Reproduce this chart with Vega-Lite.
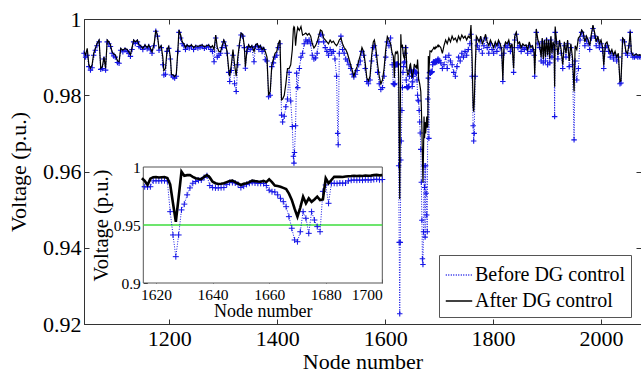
{
  "$schema": "https://vega.github.io/schema/vega-lite/v6.json",
  "width": 557,
  "height": 305,
  "autosize": {"type": "none"},
  "padding": {"left": 84, "top": 19, "right": 0, "bottom": 49},
  "background": "white",
  "config": {
    "view": {"stroke": "#333", "strokeWidth": 1},
    "font": "Liberation Serif",
    "axis": {"labelFont": "Liberation Serif", "titleFont": "Liberation Serif", "labelColor": "black", "titleColor": "black", "titleFontWeight": "normal", "grid": false, "domainColor": "#333", "tickColor": "#333"},
    "legend": {"labelFont": "Liberation Serif"}
  },
  "datasets": {
    "d": [
      {"n":1042,"a":0.9914,"b":0.9910},{"n":1045,"a":0.9906,"b":0.9900},{"n":1048,"a":0.9923,"b":0.9905},{"n":1051,"a":0.9880,"b":0.9875},{"n":1054,"a":0.9871,"b":0.9866},{"n":1057,"a":0.9880,"b":0.9872},{"n":1060,"a":0.9910,"b":0.9905},{"n":1063,"a":0.9923,"b":0.9918},{"n":1066,"a":0.9935,"b":0.9930},{"n":1070,"a":0.9945,"b":0.9940},{"n":1073,"a":0.9871,"b":0.9868},{"n":1076,"a":0.9875,"b":0.9870},{"n":1079,"a":0.9900,"b":0.9895},{"n":1082,"a":0.9871,"b":0.9866},{"n":1085,"a":0.9945,"b":0.9940},{"n":1088,"a":0.9940,"b":0.9935},{"n":1091,"a":0.9932,"b":0.9928},{"n":1094,"a":0.9914,"b":0.9910},{"n":1097,"a":0.9908,"b":0.9903},{"n":1100,"a":0.9906,"b":0.9900},{"n":1104,"a":0.9890,"b":0.9886},{"n":1107,"a":0.9888,"b":0.9884},{"n":1110,"a":0.9923,"b":0.9918},{"n":1114,"a":0.9918,"b":0.9914},{"n":1118,"a":0.9923,"b":0.9919},{"n":1122,"a":0.9920,"b":0.9915},{"n":1125,"a":0.9914,"b":0.9910},{"n":1128,"a":0.9906,"b":0.9902},{"n":1131,"a":0.9925,"b":0.9920},{"n":1134,"a":0.9945,"b":0.9940},{"n":1137,"a":0.9940,"b":0.9936},{"n":1141,"a":0.9945,"b":0.9940},{"n":1144,"a":0.9932,"b":0.9928},{"n":1147,"a":0.9930,"b":0.9926},{"n":1151,"a":0.9923,"b":0.9920},{"n":1155,"a":0.9932,"b":0.9928},{"n":1159,"a":0.9925,"b":0.9922},{"n":1162,"a":0.9932,"b":0.9928},{"n":1165,"a":0.9923,"b":0.9919},{"n":1168,"a":0.9914,"b":0.9910},{"n":1172,"a":0.9935,"b":0.9930},{"n":1175,"a":0.9971,"b":0.9968},{"n":1178,"a":0.9958,"b":0.9955},{"n":1181,"a":0.9923,"b":0.9918},{"n":1185,"a":0.9930,"b":0.9925},{"n":1188,"a":0.9900,"b":0.9880},{"n":1190,"a":0.9865,"b":0.9853},{"n":1193,"a":0.9870,"b":0.9855},{"n":1196,"a":0.9920,"b":0.9915},{"n":1199,"a":0.9928,"b":0.9923},{"n":1202,"a":0.9900,"b":0.9895},{"n":1204,"a":0.9855,"b":0.9853},{"n":1207,"a":0.9853,"b":0.9848},{"n":1210,"a":0.9849,"b":0.9845},{"n":1213,"a":0.9855,"b":0.9850},{"n":1216,"a":0.9920,"b":0.9915},{"n":1218,"a":0.9971,"b":0.9965},{"n":1221,"a":0.9958,"b":0.9950},{"n":1224,"a":0.9940,"b":0.9935},{"n":1227,"a":0.9935,"b":0.9930},{"n":1230,"a":0.9925,"b":0.9920},{"n":1233,"a":0.9932,"b":0.9928},{"n":1237,"a":0.9928,"b":0.9924},{"n":1241,"a":0.9932,"b":0.9928},{"n":1245,"a":0.9925,"b":0.9920},{"n":1249,"a":0.9930,"b":0.9926},
      {"n":1253,"a":0.9928,"b":0.9924},{"n":1257,"a":0.9930,"b":0.9926},{"n":1261,"a":0.9932,"b":0.9928},{"n":1265,"a":0.9927,"b":0.9923},{"n":1269,"a":0.9930,"b":0.9926},{"n":1273,"a":0.9932,"b":0.9928},{"n":1277,"a":0.9925,"b":0.9920},{"n":1280,"a":0.9930,"b":0.9915},{"n":1283,"a":0.9920,"b":0.9888},{"n":1286,"a":0.9958,"b":0.9950},{"n":1289,"a":0.9925,"b":0.9900},{"n":1292,"a":0.9915,"b":0.9905},{"n":1295,"a":0.9914,"b":0.9910},{"n":1298,"a":0.9930,"b":0.9925},{"n":1301,"a":0.9945,"b":0.9940},{"n":1304,"a":0.9935,"b":0.9930},{"n":1307,"a":0.9915,"b":0.9910},{"n":1310,"a":0.9870,"b":0.9860},{"n":1312,"a":0.9850,"b":0.9836},{"n":1315,"a":0.9880,"b":0.9865},{"n":1318,"a":0.9920,"b":0.9905},{"n":1321,"a":0.9880,"b":0.9830},{"n":1324,"a":0.9850,"b":0.9810},{"n":1327,"a":0.9900,"b":0.9880},{"n":1330,"a":0.9935,"b":0.9930},{"n":1333,"a":0.9963,"b":0.9958},{"n":1336,"a":0.9960,"b":0.9955},{"n":1339,"a":0.9930,"b":0.9925},{"n":1341,"a":0.9875,"b":0.9871},{"n":1344,"a":0.9920,"b":0.9915},{"n":1347,"a":0.9932,"b":0.9928},{"n":1350,"a":0.9925,"b":0.9920},{"n":1353,"a":0.9930,"b":0.9925},{"n":1357,"a":0.9915,"b":0.9888},{"n":1360,"a":0.9932,"b":0.9928},{"n":1363,"a":0.9935,"b":0.9930},{"n":1366,"a":0.9925,"b":0.9920},{"n":1369,"a":0.9930,"b":0.9926},{"n":1372,"a":0.9920,"b":0.9915},{"n":1375,"a":0.9925,"b":0.9920},{"n":1378,"a":0.9914,"b":0.9893},{"n":1381,"a":0.9900,"b":0.9890},{"n":1384,"a":0.9800,"b":0.9796},{"n":1387,"a":0.9810,"b":0.9800},{"n":1390,"a":0.9880,"b":0.9875},{"n":1393,"a":0.9895,"b":0.9885},{"n":1396,"a":0.9910,"b":0.9900},{"n":1399,"a":0.9914,"b":0.9905},{"n":1402,"a":0.9935,"b":0.9925},{"n":1405,"a":0.9945,"b":0.9935},{"n":1408,"a":0.9788,"b":0.9748},{"n":1410,"a":0.9790,"b":0.9730},{"n":1413,"a":0.9800,"b":0.9745},{"n":1416,"a":0.9830,"b":0.9770},{"n":1419,"a":0.9870,"b":0.9790},{"n":1422,"a":0.9870,"b":0.9860},{"n":1425,"a":0.9880,"b":0.9785},{"n":1428,"a":0.9920,"b":0.9718},{"n":1430,"a":0.9975,"b":0.9640},{"n":1431,"a":0.9980,"b":0.9622},{"n":1432,"a":0.9978,"b":0.9650},{"n":1434,"a":0.9930,"b":0.9720},{"n":1436,"a":0.9960,"b":0.9858},{"n":1438,"a":0.9978,"b":0.9820},{"n":1441,"a":0.9970,"b":0.9870},{"n":1444,"a":0.9980,"b":0.9900},{"n":1447,"a":0.9958,"b":0.9910},
      {"n":1450,"a":0.9960,"b":0.9935},{"n":1453,"a":0.9963,"b":0.9945},{"n":1456,"a":0.9958,"b":0.9940},{"n":1459,"a":0.9962,"b":0.9945},{"n":1462,"a":0.9955,"b":0.9935},{"n":1465,"a":0.9935,"b":0.9905},{"n":1468,"a":0.9924,"b":0.9895},{"n":1471,"a":0.9930,"b":0.9898},{"n":1474,"a":0.9940,"b":0.9910},{"n":1477,"a":0.9955,"b":0.9940},{"n":1480,"a":0.9971,"b":0.9960},{"n":1483,"a":0.9968,"b":0.9958},{"n":1486,"a":0.9950,"b":0.9940},{"n":1489,"a":0.9945,"b":0.9925},{"n":1492,"a":0.9940,"b":0.9915},{"n":1495,"a":0.9935,"b":0.9905},{"n":1498,"a":0.9945,"b":0.9920},{"n":1501,"a":0.9938,"b":0.9910},{"n":1504,"a":0.9942,"b":0.9915},{"n":1507,"a":0.9935,"b":0.9895},{"n":1510,"a":0.9930,"b":0.9850},{"n":1512,"a":0.9935,"b":0.9700},{"n":1513,"a":0.9938,"b":0.9670},{"n":1515,"a":0.9945,"b":0.9910},{"n":1518,"a":0.9950,"b":0.9955},{"n":1521,"a":0.9935,"b":0.9920},{"n":1524,"a":0.9925,"b":0.9910},{"n":1527,"a":0.9920,"b":0.9895},{"n":1530,"a":0.9910,"b":0.9890},{"n":1533,"a":0.9895,"b":0.9880},{"n":1536,"a":0.9880,"b":0.9870},{"n":1539,"a":0.9865,"b":0.9855},{"n":1542,"a":0.9850,"b":0.9848},{"n":1545,"a":0.9865,"b":0.9855},{"n":1548,"a":0.9875,"b":0.9865},{"n":1551,"a":0.9890,"b":0.9880},{"n":1554,"a":0.9905,"b":0.9890},{"n":1557,"a":0.9925,"b":0.9915},{"n":1560,"a":0.9915,"b":0.9905},{"n":1563,"a":0.9885,"b":0.9870},{"n":1566,"a":0.9845,"b":0.9836},{"n":1569,"a":0.9838,"b":0.9830},{"n":1572,"a":0.9850,"b":0.9840},{"n":1575,"a":0.9905,"b":0.9890},{"n":1578,"a":0.9940,"b":0.9925},{"n":1580,"a":0.9945,"b":0.9930},{"n":1583,"a":0.9920,"b":0.9905},{"n":1586,"a":0.9880,"b":0.9860},{"n":1589,"a":0.9850,"b":0.9830},{"n":1592,"a":0.9830,"b":0.9815},{"n":1595,"a":0.9840,"b":0.9820},{"n":1598,"a":0.9870,"b":0.9850},{"n":1601,"a":0.9920,"b":0.9900},{"n":1604,"a":0.9954,"b":0.9940},{"n":1607,"a":0.9945,"b":0.9930},{"n":1610,"a":0.9935,"b":0.9950},{"n":1613,"a":0.9910,"b":0.9880},
      {"n":1615,"a":0.9903,"b":0.9830},{"n":1616,"a":0.9880,"b":0.9830},{"n":1617,"a":0.9845,"b":0.9828},{"n":1618,"a":0.9900,"b":0.9830},{"n":1619,"a":0.9912,"b":0.9880},{"n":1620,"a":0.9914,"b":0.9882},{"n":1621,"a":0.9910,"b":0.9880},{"n":1622,"a":0.9912,"b":0.9882},{"n":1623,"a":0.9914,"b":0.9882},{"n":1624,"a":0.9905,"b":0.9880},{"n":1625,"a":0.9850,"b":0.9615},{"n":1626,"a":0.9687,"b":0.9414},{"n":1627,"a":0.9528,"b":0.9227},{"n":1628,"a":0.9740,"b":0.9414},{"n":1629,"a":0.9960,"b":0.9630},{"n":1630,"a":0.9925,"b":0.9680},{"n":1631,"a":0.9930,"b":0.9760},{"n":1632,"a":0.9931,"b":0.9820},{"n":1633,"a":0.9915,"b":0.9860},{"n":1634,"a":0.9903,"b":0.9875},{"n":1635,"a":0.9898,"b":0.9885},{"n":1636,"a":0.9895,"b":0.9888},{"n":1637,"a":0.9915,"b":0.9910},{"n":1638,"a":0.9931,"b":0.9925},{"n":1639,"a":0.9910,"b":0.9840},{"n":1640,"a":0.9873,"b":0.9823},{"n":1641,"a":0.9860,"b":0.9820},{"n":1642,"a":0.9853,"b":0.9820},{"n":1643,"a":0.9855,"b":0.9822},{"n":1644,"a":0.9860,"b":0.9823},{"n":1645,"a":0.9870,"b":0.9850},{"n":1646,"a":0.9880,"b":0.9865},{"n":1647,"a":0.9882,"b":0.9866},{"n":1648,"a":0.9870,"b":0.9862},{"n":1649,"a":0.9858,"b":0.9850},{"n":1650,"a":0.9845,"b":0.9823},{"n":1651,"a":0.9855,"b":0.9835},{"n":1652,"a":0.9860,"b":0.9850},{"n":1653,"a":0.9870,"b":0.9860},{"n":1654,"a":0.9882,"b":0.9866},{"n":1655,"a":0.9878,"b":0.9862},{"n":1656,"a":0.9875,"b":0.9860},{"n":1657,"a":0.9873,"b":0.9859},{"n":1658,"a":0.9880,"b":0.9858},{"n":1659,"a":0.9870,"b":0.9840},{"n":1660,"a":0.9894,"b":0.9800},{"n":1661,"a":0.9870,"b":0.9787},{"n":1662,"a":0.9840,"b":0.9785},{"n":1663,"a":0.9836,"b":0.9760},{"n":1664,"a":0.9830,"b":0.9730},{"n":1665,"a":0.9820,"b":0.9701},{"n":1666,"a":0.9810,"b":0.9658},{"n":1667,"a":0.9770,"b":0.9572},{"n":1668,"a":0.9716,"b":0.9472},{"n":1669,"a":0.9640,"b":0.9371},{"n":1670,"a":0.9572,"b":0.9356},{"n":1671,"a":0.9650,"b":0.9442},{"n":1672,"a":0.9744,"b":0.9615},{"n":1673,"a":0.9687,"b":0.9558},{"n":1674,"a":0.9730,"b":0.9428},{"n":1675,"a":0.9700,"b":0.9615},{"n":1676,"a":0.9720,"b":0.9543},{"n":1677,"a":0.9744,"b":0.9486},{"n":1678,"a":0.9715,"b":0.9442},{"n":1679,"a":0.9720,"b":0.9790},{"n":1680,"a":0.9903,"b":0.9845},{"n":1681,"a":0.9860,"b":0.9687},{"n":1682,"a":0.9888,"b":0.9859},{"n":1683,"a":0.9916,"b":0.9860},{"n":1684,"a":0.9915,"b":0.9858},{"n":1685,"a":0.9916,"b":0.9862},{"n":1686,"a":0.9914,"b":0.9860},{"n":1687,"a":0.9918,"b":0.9862},{"n":1688,"a":0.9920,"b":0.9880},{"n":1689,"a":0.9922,"b":0.9886},{"n":1690,"a":0.9925,"b":0.9888},{"n":1691,"a":0.9922,"b":0.9886},{"n":1692,"a":0.9925,"b":0.9888},{"n":1693,"a":0.9923,"b":0.9886},{"n":1694,"a":0.9927,"b":0.9890},{"n":1695,"a":0.9925,"b":0.9888},{"n":1696,"a":0.9926,"b":0.9888},{"n":1697,"a":0.9930,"b":0.9892},{"n":1698,"a":0.9932,"b":0.9895},{"n":1699,"a":0.9928,"b":0.9890},{"n":1700,"a":0.9930,"b":0.9892},
      {"n":1703,"a":0.9925,"b":0.9885},{"n":1706,"a":0.9910,"b":0.9870},{"n":1709,"a":0.9930,"b":0.9880},{"n":1712,"a":0.9945,"b":0.9900},{"n":1715,"a":0.9935,"b":0.9870},{"n":1718,"a":0.9950,"b":0.9905},{"n":1721,"a":0.9940,"b":0.9890},{"n":1724,"a":0.9955,"b":0.9880},{"n":1727,"a":0.9945,"b":0.9860},{"n":1730,"a":0.9950,"b":0.9850},{"n":1733,"a":0.9940,"b":0.9875},{"n":1736,"a":0.9955,"b":0.9900},{"n":1739,"a":0.9945,"b":0.9890},{"n":1742,"a":0.9958,"b":0.9910},{"n":1745,"a":0.9950,"b":0.9900},{"n":1748,"a":0.9955,"b":0.9915},{"n":1751,"a":0.9945,"b":0.9905},{"n":1754,"a":0.9955,"b":0.9920},{"n":1757,"a":0.9950,"b":0.9935},{"n":1759,"a":0.9984,"b":0.9960},{"n":1761,"a":0.9900,"b":0.9850},{"n":1763,"a":0.9770,"b":0.9720},{"n":1764,"a":0.9757,"b":0.9680},{"n":1765,"a":0.9780,"b":0.9700},{"n":1767,"a":0.9880,"b":0.9850},{"n":1769,"a":0.9955,"b":0.9945},
      {"n":1771,"a":0.9950,"b":0.9930},{"n":1774,"a":0.9940,"b":0.9920},{"n":1777,"a":0.9955,"b":0.9945},{"n":1780,"a":0.9935,"b":0.9910},{"n":1783,"a":0.9945,"b":0.9930},{"n":1786,"a":0.9960,"b":0.9950},{"n":1789,"a":0.9940,"b":0.9925},{"n":1792,"a":0.9930,"b":0.9910},{"n":1795,"a":0.9945,"b":0.9935},{"n":1798,"a":0.9935,"b":0.9920},{"n":1801,"a":0.9925,"b":0.9910},{"n":1804,"a":0.9940,"b":0.9930},{"n":1807,"a":0.9930,"b":0.9915},{"n":1810,"a":0.9945,"b":0.9935},{"n":1813,"a":0.9935,"b":0.9925},{"n":1816,"a":0.9920,"b":0.9905},{"n":1818,"a":0.9840,"b":0.9836},{"n":1820,"a":0.9925,"b":0.9910},{"n":1823,"a":0.9940,"b":0.9930},{"n":1826,"a":0.9935,"b":0.9925},{"n":1829,"a":0.9945,"b":0.9935},{"n":1832,"a":0.9925,"b":0.9915},{"n":1835,"a":0.9935,"b":0.9925},{"n":1838,"a":0.9870,"b":0.9860},{"n":1840,"a":0.9955,"b":0.9945},{"n":1843,"a":0.9965,"b":0.9960},{"n":1846,"a":0.9935,"b":0.9925},{"n":1849,"a":0.9940,"b":0.9930},{"n":1852,"a":0.9925,"b":0.9915},{"n":1855,"a":0.9935,"b":0.9925},{"n":1858,"a":0.9930,"b":0.9920},
      {"n":1861,"a":0.9932,"b":0.9925},{"n":1864,"a":0.9919,"b":0.9910},{"n":1867,"a":0.9940,"b":0.9930},{"n":1870,"a":0.9925,"b":0.9915},{"n":1873,"a":0.9930,"b":0.9920},{"n":1876,"a":0.9914,"b":0.9905},{"n":1877,"a":0.9855,"b":0.9850},{"n":1880,"a":0.9974,"b":0.9965},{"n":1883,"a":0.9945,"b":0.9935},{"n":1886,"a":0.9935,"b":0.9925},{"n":1889,"a":0.9900,"b":0.9890},{"n":1891,"a":0.9950,"b":0.9940},{"n":1893,"a":0.9895,"b":0.9885},{"n":1895,"a":0.9945,"b":0.9935},{"n":1897,"a":0.9900,"b":0.9890},{"n":1899,"a":0.9950,"b":0.9945},{"n":1901,"a":0.9905,"b":0.9880},{"n":1903,"a":0.9945,"b":0.9935},{"n":1905,"a":0.9895,"b":0.9885},{"n":1907,"a":0.9955,"b":0.9945},{"n":1909,"a":0.9910,"b":0.9900},{"n":1911,"a":0.9940,"b":0.9930},{"n":1913,"a":0.9930,"b":0.9920},{"n":1914,"a":0.9822,"b":0.9744},{"n":1915,"a":0.9980,"b":0.9965},{"n":1917,"a":0.9950,"b":0.9940},{"n":1920,"a":0.9905,"b":0.9895},{"n":1923,"a":0.9945,"b":0.9935},{"n":1926,"a":0.9920,"b":0.9910},{"n":1929,"a":0.9880,"b":0.9870},{"n":1932,"a":0.9940,"b":0.9930},{"n":1935,"a":0.9910,"b":0.9900},{"n":1938,"a":0.9945,"b":0.9935},{"n":1941,"a":0.9890,"b":0.9875},{"n":1944,"a":0.9935,"b":0.9925},{"n":1947,"a":0.9900,"b":0.9880},{"n":1950,"a":0.9810,"b":0.9683},{"n":1952,"a":0.9930,"b":0.9890},{"n":1955,"a":0.9920,"b":0.9840},{"n":1958,"a":0.9950,"b":0.9870},{"n":1961,"a":0.9955,"b":0.9945},{"n":1964,"a":0.9971,"b":0.9965},{"n":1967,"a":0.9965,"b":0.9955},{"n":1970,"a":0.9940,"b":0.9930},{"n":1973,"a":0.9955,"b":0.9945},{"n":1976,"a":0.9945,"b":0.9935},{"n":1979,"a":0.9930,"b":0.9920},{"n":1982,"a":0.9960,"b":0.9950},{"n":1985,"a":0.9984,"b":0.9975},{"n":1988,"a":0.9965,"b":0.9955},{"n":1991,"a":0.9940,"b":0.9930},{"n":1994,"a":0.9955,"b":0.9945},{"n":1997,"a":0.9935,"b":0.9925},{"n":2000,"a":0.9945,"b":0.9935},{"n":2003,"a":0.9925,"b":0.9915},{"n":2005,"a":0.9878,"b":0.9870},{"n":2008,"a":0.9935,"b":0.9925},{"n":2011,"a":0.9940,"b":0.9930},{"n":2014,"a":0.9925,"b":0.9915},{"n":2017,"a":0.9910,"b":0.9900},{"n":2020,"a":0.9920,"b":0.9910},{"n":2023,"a":0.9905,"b":0.9895},{"n":2026,"a":0.9915,"b":0.9905},{"n":2029,"a":0.9900,"b":0.9890},{"n":2032,"a":0.9910,"b":0.9900},{"n":2035,"a":0.9836,"b":0.9830},{"n":2037,"a":0.9838,"b":0.9832},{"n":2040,"a":0.9950,"b":0.9945},{"n":2043,"a":0.9945,"b":0.9940},{"n":2046,"a":0.9915,"b":0.9910},{"n":2049,"a":0.9910,"b":0.9905},{"n":2052,"a":0.9935,"b":0.9930},{"n":2054,"a":0.9968,"b":0.9965},{"n":2056,"a":0.9915,"b":0.9910},{"n":2059,"a":0.9905,"b":0.9900},{"n":2062,"a":0.9905,"b":0.9900},{"n":2065,"a":0.9908,"b":0.9903},{"n":2068,"a":0.9905,"b":0.9900},{"n":2071,"a":0.9906,"b":0.9901},{"n":2074,"a":0.9905,"b":0.9900}
    ]
  },
  "layer": [
    {
      "data": {"name": "d"},
      "resolve": {"axis": {"x": "independent", "y": "independent"}},
      "layer": [
        {
          "mark": {"type": "line", "strokeDash": [1, 1.5], "strokeWidth": 1, "clip": true},
          "encoding": {
            "x": {"field": "n", "type": "quantitative", "scale": {"domain": [1042, 2074], "nice": false, "zero": false},
                  "axis": {"orient": "bottom", "values": [1200, 1400, 1600, 1800, 2000], "format": "d", "title": "Node number", "labelFontSize": 22, "titleFontSize": 22, "tickSize": -5, "labelPadding": 9, "titlePadding": 2}},
            "y": {"field": "b", "type": "quantitative", "scale": {"domain": [0.92, 1], "nice": false, "zero": false},
                  "axis": {"orient": "left", "values": [0.92, 0.94, 0.96, 0.98, 1], "format": "~g", "title": "Voltage (p.u.)", "labelFontSize": 22, "titleFontSize": 22, "tickSize": -5, "labelPadding": 8, "titlePadding": 12}},
            "color": {"datum": "Before DG control", "type": "nominal",
                      "scale": {"domain": ["Before DG control", "After DG control"], "range": ["#1414e6", "#000000"]},
                      "legend": {"orient": "none", "legendX": 355, "legendY": 236, "title": null, "labelFontSize": 20, "symbolType": "stroke", "symbolSize": 700, "symbolStrokeWidth": 1.5, "strokeColor": "#555", "fillColor": "white", "padding": 6, "rowPadding": 2, "labelOffset": 2,
                                 "encode": {"symbols": {"update": {"strokeDash": {"signal": "datum.value === 'Before DG control' ? [1, 1.5] : [1, 0]"}}}}}}
          }
        },
        {
          "mark": {"type": "point", "shape": "M-1,0H1M0,-1V1", "filled": false, "size": 30, "strokeWidth": 1.1, "color": "#1414e6", "opacity": 1},
          "encoding": {
            "x": {"field": "n", "type": "quantitative",
                  "axis": {"orient": "top", "values": [1200, 1400, 1600, 1800, 2000], "labels": false, "title": null, "domain": false, "tickSize": -5}},
            "y": {"field": "b", "type": "quantitative",
                  "axis": {"orient": "right", "values": [0.92, 0.94, 0.96, 0.98, 1], "labels": false, "title": null, "domain": false, "tickSize": -5}}
          }
        },
        {
          "mark": {"type": "line", "strokeWidth": 1.2, "clip": true},
          "encoding": {
            "x": {"field": "n", "type": "quantitative", "axis": null},
            "y": {"field": "a", "type": "quantitative", "axis": null},
            "color": {"datum": "After DG control", "type": "nominal"}
          }
        }
      ]
    },
    {
      "layer": [
        {
          "data": {"values": [{}]},
          "mark": {"type": "rect", "fill": "white", "stroke": "#555", "strokeWidth": 1},
          "encoding": {
            "x": {"datum": 1615.5, "type": "quantitative", "scale": {"domain": [1615.5, 1700], "range": [59.3, 298.3], "nice": false, "zero": false},
                  "axis": {"orient": "bottom", "offset": -41, "values": [1620, 1640, 1660, 1680, 1700], "format": "d", "title": "Node number", "labelFontSize": 15.5, "titleFontSize": 18, "tickSize": -4, "labelPadding": 8, "titlePadding": 0, "domain": false}},
            "x2": {"datum": 1700},
            "y": {"datum": 0.9, "type": "quantitative", "scale": {"domain": [0.9, 1], "range": [264, 148], "nice": false, "zero": false},
                  "axis": {"orient": "left", "offset": -59.3, "values": [0.9, 0.95, 1], "format": "~g", "title": "Voltage (p.u.)", "labelFontSize": 15.5, "titleFontSize": 20.5, "tickSize": -4, "labelPadding": 7, "titlePadding": 2, "domain": false}},
            "y2": {"datum": 1}
          }
        },
        {
          "data": {"values": [{}]},
          "mark": {"type": "rule", "color": "#3ddc3d", "strokeWidth": 1.6},
          "encoding": {
            "x": {"datum": 1615.5, "type": "quantitative"},
            "x2": {"datum": 1700},
            "y": {"datum": 0.95, "type": "quantitative"}
          }
        },
        {
          "data": {"name": "d"},
          "transform": [{"filter": "datum.n >= 1615 && datum.n <= 1700"}],
          "mark": {"type": "line", "strokeDash": [1, 1.5], "strokeWidth": 1, "color": "#1414e6", "clip": true},
          "encoding": {
            "x": {"field": "n", "type": "quantitative"},
            "y": {"field": "b", "type": "quantitative"}
          }
        },
        {
          "data": {"name": "d"},
          "transform": [{"filter": "datum.n >= 1616 && datum.n <= 1700"}],
          "mark": {"type": "point", "shape": "M-1,0H1M0,-1V1", "filled": false, "size": 36, "strokeWidth": 1, "color": "#1414e6", "opacity": 1},
          "encoding": {
            "x": {"field": "n", "type": "quantitative"},
            "y": {"field": "b", "type": "quantitative"}
          }
        },
        {
          "data": {"name": "d"},
          "transform": [{"filter": "datum.n >= 1615 && datum.n <= 1700"}],
          "mark": {"type": "line", "strokeWidth": 2.6, "color": "#000000", "clip": true},
          "encoding": {
            "x": {"field": "n", "type": "quantitative"},
            "y": {"field": "a", "type": "quantitative"}
          }
        }
      ]
    }
  ],
  "resolve": {"scale": {"x": "independent", "y": "independent"}}
}
